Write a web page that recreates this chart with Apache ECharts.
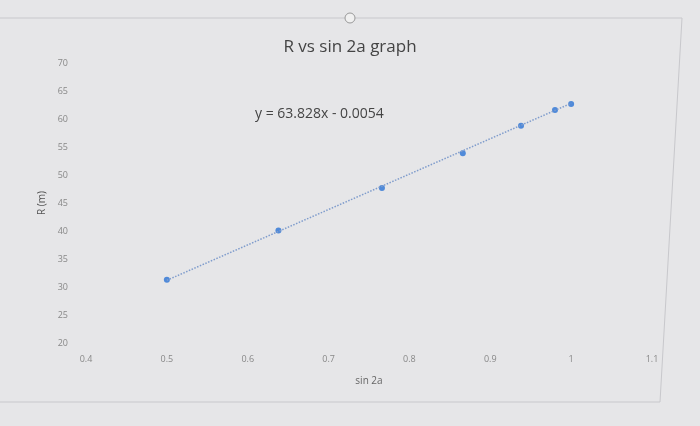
<!DOCTYPE html>
<html><head><meta charset="utf-8">
<script src="https://cdn.jsdelivr.net/npm/echarts@6/dist/echarts.min.js"></script>
<style>html,body{margin:0;padding:0;background:#e6e6e8;}#c{width:700px;height:426px;}</style>
</head><body><div id="c"></div>
<script>
const titleText = "R vs sin 2a graph";
const xName = "sin 2a";
const yName = "R (m)";
const equationText = "y = 63.828x - 0.0054";
const sinValues = [0.5, 0.638, 0.766, 0.866, 0.938, 0.980, 1.0];
const rValues = [31.3, 40.1, 47.7, 53.9, 58.8, 61.6, 62.7];
const trendX = [0.5, 1.0];
const trendY = [31.2, 62.8];

const chart = echarts.init(document.getElementById('c'));
chart.setOption({
  backgroundColor: '#e6e6e8',
  animation: false,
  title: {text: titleText, left: 'center', top: 34, textStyle: {fontFamily: 'Open Sans', fontSize: 17, fontWeight: 'normal', color: '#444'}},
  grid: {left: 86, right: 48, top: 63, bottom: 83},
  xAxis: {type: 'value', min: 0.4, max: 1.1, interval: 0.1,
    name: xName, nameLocation: 'middle', nameGap: 33,
    nameTextStyle: {fontFamily: 'Open Sans', fontSize: 10, color: '#666'},
    axisLine: {show: false}, axisTick: {show: false}, splitLine: {show: false},
    axisLabel: {fontFamily: 'Open Sans', fontSize: 9, color: '#888', margin: 12,
      formatter: v => (Math.round(v*10)/10).toString()}},
  yAxis: {type: 'value', min: 20, max: 70, interval: 5,
    name: yName, nameLocation: 'middle', nameGap: 36, nameRotate: 90,
    nameTextStyle: {fontFamily: 'Open Sans', fontSize: 10, color: '#555'},
    axisLine: {show: false}, axisTick: {show: false}, splitLine: {show: false},
    axisLabel: {fontFamily: 'Open Sans', fontSize: 9, color: '#888', margin: 18}},
  graphic: [
    {type: 'line', shape: {x1: 0, y1: 18, x2: 682, y2: 18}, style: {stroke: '#c8c8cc', lineWidth: 1}},
    {type: 'line', shape: {x1: 682, y1: 18, x2: 660, y2: 402}, style: {stroke: '#c8c8cc', lineWidth: 1}},
    {type: 'line', shape: {x1: 0, y1: 402, x2: 660, y2: 402}, style: {stroke: '#c8c8cc', lineWidth: 1}},
    {type: 'circle', shape: {cx: 350, cy: 18, r: 5}, style: {fill: '#f0f0f0', stroke: '#999', lineWidth: 1}},
    {type: 'text', left: 255, top: 107, style: {text: equationText, font: '14px "Open Sans"', fill: '#444'}}
  ],
  series: [
    {type: 'line', data: trendX.map((x, i) => [x, trendY[i]]), symbol: 'none',
      lineStyle: {type: 'dotted', width: 1.5, color: '#7f9ccc'}, silent: true},
    {type: 'scatter', data: sinValues.map((x, i) => [x, rValues[i]]), symbolSize: 6,
      itemStyle: {color: '#2a73d4'}}
  ]
});
</script></body></html>
